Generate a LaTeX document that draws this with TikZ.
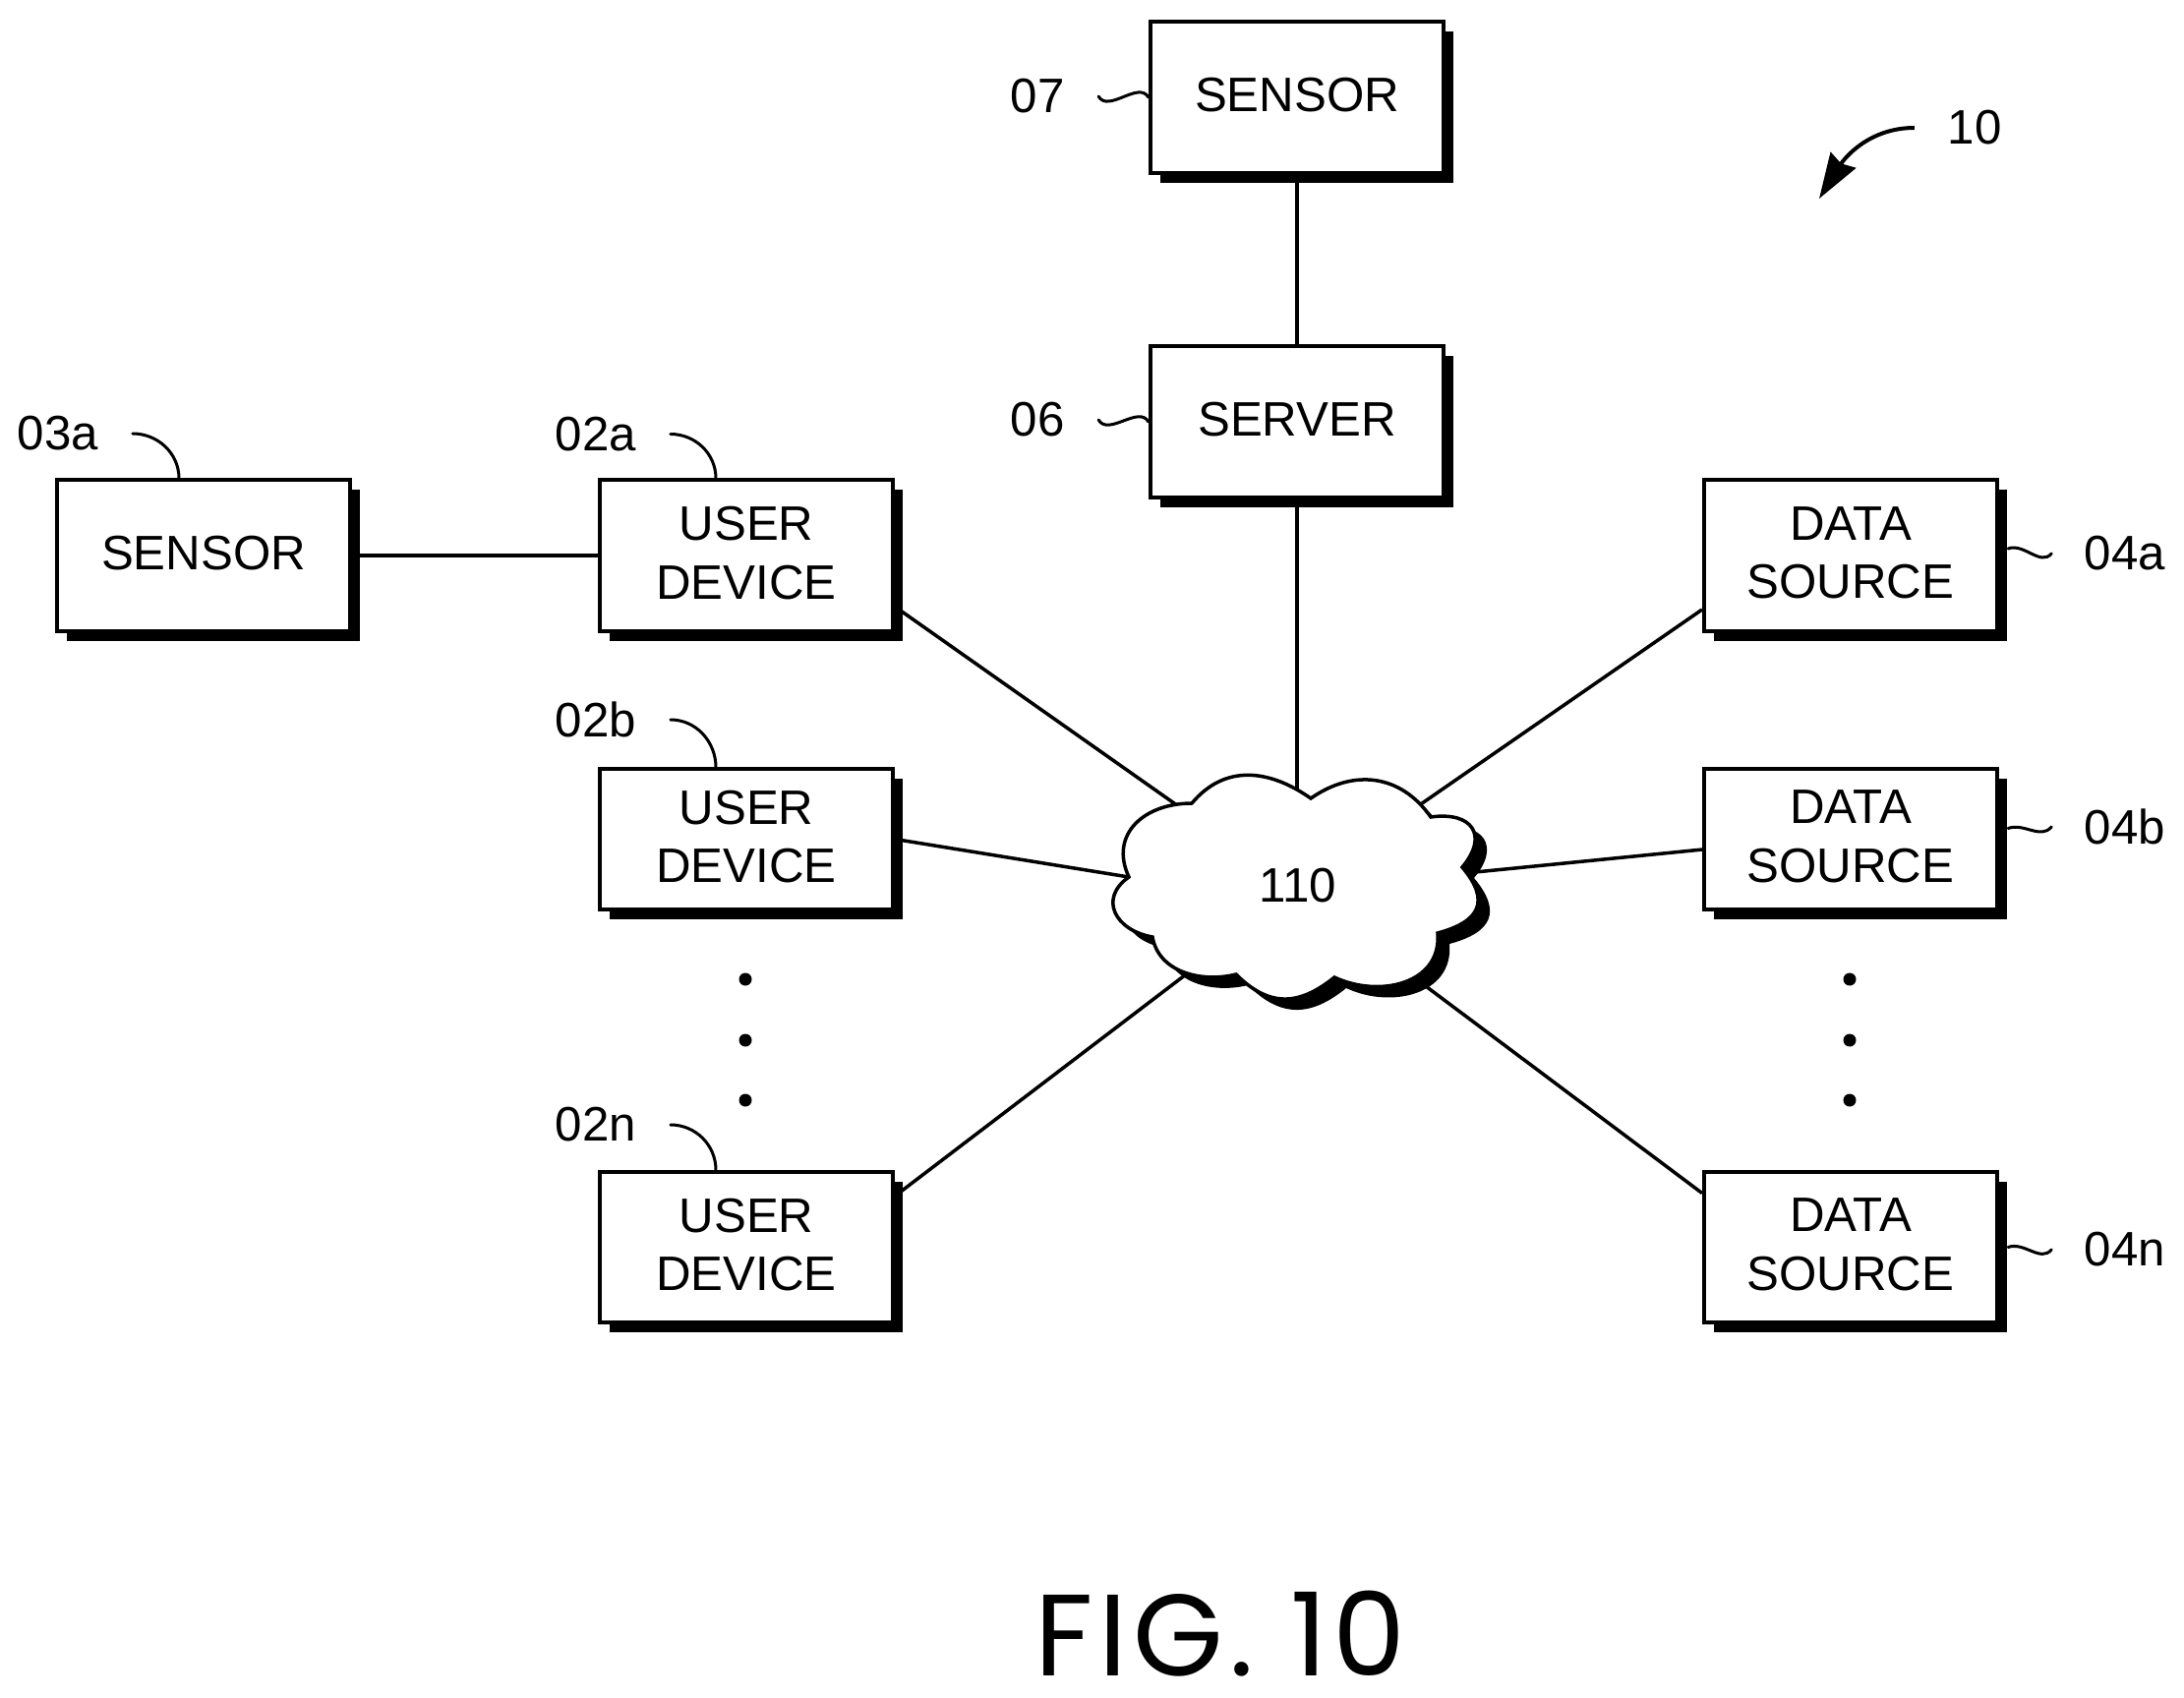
\documentclass[tikz,border=0pt]{standalone}
\usepackage{fontspec}
\setmainfont{Liberation Sans}
\newfontfamily\figfont[LetterSpace=5]{Poppins}
\usetikzlibrary{positioning}
\usetikzlibrary{shadows, arrows.meta}

\tikzset{
  blackshadow/.style={drop shadow={shadow xshift=0.1cm, shadow yshift=-0.1cm, opacity=1, fill=black}},
  cloudshadow/.style={drop shadow={shadow xshift=0.12cm, shadow yshift=-0.11cm, opacity=1, fill=black}},
  devbox/.style={draw, fill=white, line width=0.04cm, minimum width=2.98cm, minimum height=1.53cm, inner sep=0pt, text depth=0.056cm, align=center, blackshadow, font=\fontsize{14}{16.9}\selectfont},
  shortbox/.style={devbox, minimum height=1.42cm},
  reflabel/.style={inner sep=0pt, font=\fontsize{14}{16.9}\selectfont},
  wire/.style={line width=0.035cm},
  leader/.style={line width=0.03cm, line cap=round}
}

\begin{document}
\begin{tikzpicture}[x=0.01cm, y=0.01cm]
        \useasboundingbox (0,0) rectangle (2221,1726);

        % Dibuja las cajas
        \node[devbox] (sensorA) at (207,1161) {SENSOR};
        \node[devbox] (userA) at (759,1161) {USER\\DEVICE};
        \node[shortbox] (userB) at (759,872.5) {USER\\DEVICE};
        \node[devbox] (userN) at (759,457.5) {USER\\DEVICE};
        \node[devbox] (dataA) at (1882,1161) {DATA\\SOURCE};
        \node[shortbox] (dataB) at (1882,872.5) {DATA\\SOURCE};
        \node[devbox] (dataN) at (1882,457.5) {DATA\\SOURCE};
        \node[devbox] (server) at (1319,1297) {SERVER};
        \node[devbox] (sensorTop) at (1319,1627) {SENSOR};

        % Centro de la nube y punto de entrada izquierdo
        \coordinate (cloudc) at (1319,821);
        \coordinate (cuspw) at (1148,834);

        % Conexiones
        \draw[wire] (sensorTop.south) -- (server.north);
        \draw[wire] (server.south) -- (cloudc);
        \draw[wire] (sensorA.east) -- (userA.west);
        \draw[wire] (userA.-19) -- (cloudc);
        \draw[wire] (userB.east) -- (cuspw);
        \draw[wire] (userN.19) -- (cloudc);
        \draw[wire] (dataA.200) -- (cloudc);
        \draw[wire] (dataB.184) -- (cloudc);
        \draw[wire] (dataN.160) -- (cloudc);

        % Dibuja la nube
        \draw[wire, fill=white, cloudshadow] (1212,909) to[out=50,in=145,looseness=1.1] (1333,914)
            to[out=35,in=125,looseness=1.1] (1455,895)
            to[out=8,in=50,looseness=1.8] (1487,844)
            to[out=-50,in=15,looseness=1.6] (1462,777)
            to[out=-85,in=-25,looseness=1.15] (1357,732)
            to[out=219,in=-45,looseness=1.2] (1257,735)
            to[out=194,in=-80] (1172,773)
            to[out=170,in=215,looseness=1.5] (cuspw)
            to[out=115,in=180,looseness=1.25] cycle;
        \node[reflabel] (cloudlabel) at (1320,825.5) {110};

        % Puntos suspensivos
        \foreach \py in {730,668,607} {
            \fill (758,\py) circle (6.5);
            \fill (1881,\py) circle (6.5);
        }

        % Etiquetas de referencia
        \node[reflabel] (lab03a) at (59,1285) {03a};
        \node[reflabel] (lab02a) at (606,1284.5) {02a};
        \node[reflabel] (lab02b) at (606,994) {02b};
        \node[reflabel] (lab02n) at (606,582) {02n};
        \node[reflabel] (lab06) at (1055,1299) {06};
        \node[reflabel] (lab07) at (1055,1628) {07};
        \node[reflabel] (lab04a) at (2161,1163) {04a};
        \node[reflabel] (lab04b) at (2161,885) {04b};
        \node[reflabel] (lab04n) at (2161,455) {04n};
        \node[reflabel] (lab10) at (2008,1596) {10};

        % Lineas guia
        \draw[leader] ([xshift=0.34cm]lab03a.east) to[out=0,in=90] ([xshift=-0.25cm]sensorA.north);
        \draw[leader] ([xshift=0.34cm]lab02a.east) to[out=0,in=90] ([xshift=-0.31cm]userA.north);
        \draw[leader] ([xshift=0.34cm]lab02b.east) to[out=0,in=90] ([xshift=-0.31cm]userB.north);
        \draw[leader] ([xshift=0.34cm]lab02n.east) to[out=0,in=90] ([xshift=-0.31cm]userN.north);
        \draw[leader] ([xshift=0.34cm]lab07.east) to[out=-60,in=120] (sensorTop.west);
        \draw[leader] ([xshift=0.34cm]lab06.east) to[out=-60,in=120] (server.west);
        \draw[leader] ([xshift=0.09cm,yshift=0.07cm]dataA.east) to[out=20,in=230] ([xshift=-0.33cm]lab04a.west);
        \draw[leader] ([xshift=0.09cm,yshift=0.11cm]dataB.east) to[out=20,in=230] ([xshift=-0.33cm]lab04b.west);
        \draw[leader] ([xshift=0.09cm]dataN.east) to[out=20,in=230] ([xshift=-0.33cm]lab04n.west);

        % Flecha de la figura
        \coordinate (arrowend) at (1850,1524);
        \draw[leader, line width=0.04cm, line cap=butt, -{Stealth[length=0.46cm,width=0.3cm,inset=0.04cm]}] ([xshift=-0.33cm]lab10.west) to[out=180,in=58] (arrowend);

        % Titulo
        \node[inner sep=0pt, font=\fontsize{33.5}{36}\figfont] (figtitle) at (1241,64) {FIG. 10};
    \end{tikzpicture}
\end{document}
